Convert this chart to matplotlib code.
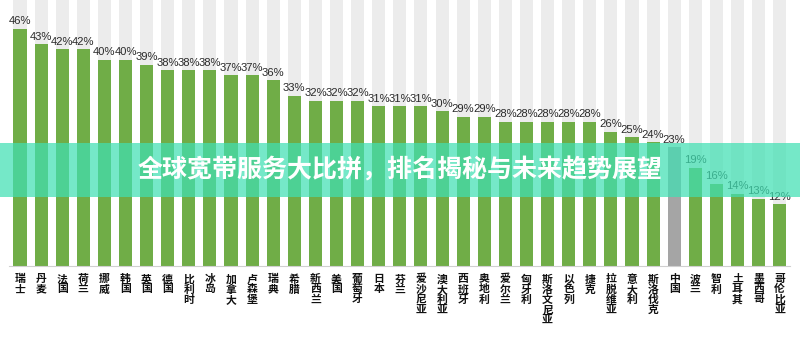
import matplotlib
matplotlib.use("Agg")
import matplotlib.pyplot as plt
from matplotlib.patches import Rectangle

countries = ["瑞士", "丹麦", "法国", "荷兰", "挪威", "韩国", "英国", "德国", "比利时", "冰岛",
             "加拿大", "卢森堡", "瑞典", "希腊", "新西兰", "美国", "葡萄牙", "日本", "芬兰",
             "爱沙尼亚", "澳大利亚", "西班牙", "奥地利", "爱尔兰", "匈牙利", "斯洛文尼亚",
             "以色列", "捷克", "拉脱维亚", "意大利", "斯洛伐克", "中国", "波兰", "智利",
             "土耳其", "墨西哥", "哥伦比亚"]
values = [46, 43, 42, 42, 40, 40, 39, 38, 38, 38, 37, 37, 36, 33, 32, 32, 32, 31, 31,
          31, 30, 29, 29, 28, 28, 28, 28, 28, 26, 25, 24, 23, 19, 16, 14, 13, 12]
highlight = "中国"
title = "全球宽带服务大比拼，排名揭秘与未来趋势展望"

plt.rcParams['font.family'] = ['Liberation Sans', 'Noto Sans CJK SC', 'DejaVu Sans']

fig = plt.figure(figsize=(8, 3.38), dpi=100)
ax = fig.add_axes([0.0118, 0.213, 0.976, 0.787])
n = len(values)
x = list(range(n))
ytop = 51.6
ax.set_xlim(-0.5, n - 0.5)
ax.set_ylim(0, ytop)
w = 0.62
ax.bar(x, [ytop] * n, width=w, color="#ececec", zorder=1)
colors = ["#a5a5a5" if c == highlight else "#70ad47" for c in countries]
ax.bar(x, values, width=w, color=colors, zorder=2)
for xi, v in zip(x, values):
    ax.text(xi, v + 0.5, f"{v}%", ha="center", va="bottom", fontsize=8.1,
            color="#2a2a2a", zorder=3)
for xi, c in zip(x, countries):
    ax.text(xi, -1.6, "\n".join(c), ha="center", va="top", fontsize=7.8,
            fontweight="bold", linespacing=1.0, color="#111111",
            family=['Noto Sans CJK SC', 'DejaVu Sans'])
for s in ["top", "right", "left"]:
    ax.spines[s].set_visible(False)
ax.spines["bottom"].set_color("#d0d0d0")
ax.set_xticks([])
ax.set_yticks([])

# banner
fig.patches.append(Rectangle((0, (338 - 197) / 338), 1, 54 / 338, transform=fig.transFigure,
                             facecolor=(0.25, 0.88, 0.70), alpha=0.72, zorder=10,
                             edgecolor="none"))
fig.text(0.5, (338 - 170) / 338, title, ha="center", va="center", fontsize=18,
         fontweight="bold", color="white", zorder=11,
         family=['Noto Sans CJK SC', 'DejaVu Sans'])

fig.savefig("out.png", dpi=100)
